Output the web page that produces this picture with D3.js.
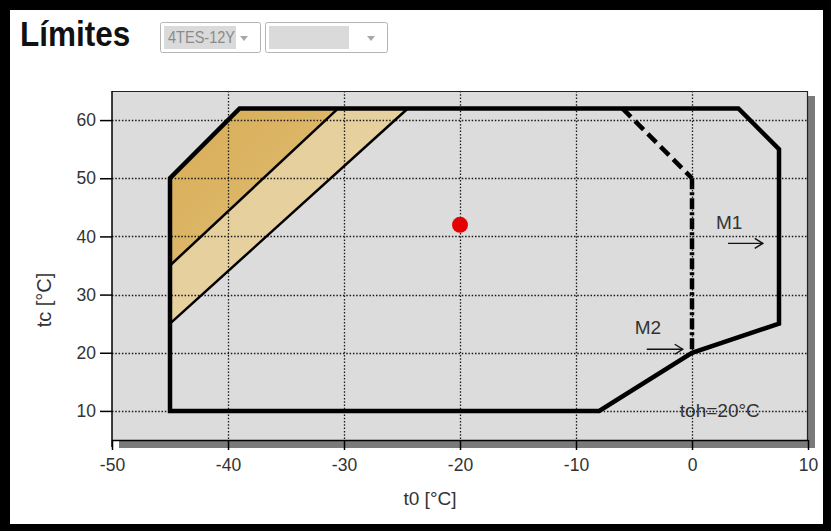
<!DOCTYPE html>
<html><head><meta charset="utf-8">
<script src="https://cdn.jsdelivr.net/npm/d3@7"></script>
<style>
html,body{margin:0;padding:0;background:#fff;}
svg{display:block;}
</style></head>
<body>
<svg id="chart" width="831" height="531"></svg>
<script>
// ---- data ----
const xTicks = [-50, -40, -30, -20, -10, 0, 10];
const yTicks = [10, 20, 30, 40, 50, 60];
const envelopeT0 = [-45, -45, -39, 4, 7.5, 7.5, 0, -8];
const envelopeTc = [10, 50, 62, 62, 55, 25, 20, 10];
const dashT0 = [-6, 0];
const dashTc = [62, 50];
const dashDotT0 = [0, 0];
const dashDotTc = [50, 20];
const darkZoneT0 = [-45, -45, -39, -30.5];
const darkZoneTc = [35, 50, 62, 62];
const lightZoneT0 = [-45, -45, -30.5, -24.5];
const lightZoneTc = [25, 35, 62, 62];
const upperLineT0 = [-45, -30.5];
const upperLineTc = [35, 62];
const lowerLineT0 = [-45, -24.5];
const lowerLineTc = [25, 62];
const pointT0 = [-20];
const pointTc = [42];
const arrowLabels = ["M1", "M2"];
const arrowLabelT0 = [3.2, -3.8];
const arrowLabelTc = [41.2, 23.2];
const arrowFromT0 = [3.1, -3.9];
const arrowToT0 = [6.1, -0.8];
const arrowTc = [38.8, 20.6];
const tohLabel = "toh=20°C";
const tohT0 = [2.4];
const tohTc = [9.0];
const titleText = "Límites";
const dropdown1 = "4TES-12Y";
const xTitle = "t0 [°C]";
const yTitle = "tc [°C]";

const zip = (a, b) => a.map((v, i) => [v, b[i]]);

const svg = d3.select("#chart");
const W = 831, H = 531;
const L = 112, R = 808, T = 91, B = 440;
const x = d3.scaleLinear().domain([-50, 10]).range([L, R]);
const y = d3.scaleLinear().domain([5, 65]).range([B, T]);

// frame
svg.append("rect").attr("x", 0).attr("y", 0).attr("width", W).attr("height", H).attr("fill", "#000");
svg.append("rect").attr("x", 10).attr("y", 10).attr("width", W - 18).attr("height", H - 17).attr("fill", "#fff");

// header
svg.append("text").attr("transform", "translate(20,46) scale(0.9,1)").text(titleText)
  .attr("font-family", "'Liberation Sans',Arial,sans-serif")
  .attr("font-weight", "bold").attr("font-size", 35).attr("fill", "#111");
function dropdown(x0, w, innerW, label) {
  const g = svg.append("g");
  g.append("rect").attr("x", x0 + 0.5).attr("y", 22.5).attr("width", w).attr("height", 30)
    .attr("rx", 2).attr("fill", "#fff").attr("stroke", "#b4b4b4");
  g.append("rect").attr("x", x0 + 4).attr("y", 26).attr("width", innerW).attr("height", 23).attr("fill", "#dadada");
  if (label) g.append("text").attr("x", x0 + 8).attr("y", 43).text(label)
    .attr("textLength", 67).attr("lengthAdjust", "spacingAndGlyphs")
    .attr("font-family", "'Liberation Sans',Arial,sans-serif")
    .attr("font-size", 16.5).attr("fill", "#8a8a8a");
  g.append("path").attr("d", `M${x0 + w - 20},36 l8,0 l-4,5 z`).attr("fill", "#a8a8a8");
}
dropdown(160, 100, 72, dropdown1);
dropdown(265, 122, 80, "");

// plot shadow + background
svg.append("rect").attr("x", L + 7).attr("y", T + 5).attr("width", R - L).attr("height", B - T + 3).attr("fill", "#7a7a7a");
svg.append("rect").attr("x", L).attr("y", T).attr("width", R - L).attr("height", B - T).attr("fill", "#dcdcdc");

// zones
const line = d3.line().x(d => x(d[0])).y(d => y(d[1]));
const defs = svg.append("defs");
const g1 = defs.append("linearGradient").attr("id", "gDark").attr("x1", 0).attr("y1", 0).attr("x2", 1).attr("y2", 1);
g1.append("stop").attr("offset", "0%").attr("stop-color", "#d8ac55");
g1.append("stop").attr("offset", "100%").attr("stop-color", "#e0bf78");
const g2 = defs.append("linearGradient").attr("id", "gLight").attr("x1", 0).attr("y1", 0).attr("x2", 1).attr("y2", 1);
g2.append("stop").attr("offset", "0%").attr("stop-color", "#e4cc96");
g2.append("stop").attr("offset", "100%").attr("stop-color", "#e8d5a8");
svg.append("path").attr("d", line(zip(darkZoneT0, darkZoneTc)) + "Z").attr("fill", "url(#gDark)");
svg.append("path").attr("d", line(zip(lightZoneT0, lightZoneTc)) + "Z").attr("fill", "url(#gLight)");

// grid
const grid = svg.append("g").attr("stroke", "#1a1a1a").attr("stroke-width", 1.3).attr("stroke-dasharray", "1.5,1.8");
grid.selectAll(".gx").data(xTicks.filter(v => v > -50 && v < 10)).join("line")
  .attr("x1", d => Math.round(x(d)) + 0.5).attr("x2", d => Math.round(x(d)) + 0.5).attr("y1", T).attr("y2", B);
grid.selectAll(".gy").data(yTicks).join("line")
  .attr("y1", d => Math.round(y(d)) + 0.5).attr("y2", d => Math.round(y(d)) + 0.5).attr("x1", L).attr("x2", R);

// plot border top/right
svg.append("path").attr("d", `M${L},${T + 0.5}H${R - 0.5}V${B}`).attr("fill", "none").attr("stroke", "#222").attr("stroke-width", 1.2);

// axes
const fontAx = "'Liberation Sans',Arial,sans-serif";
const xAxis = svg.append("g").attr("transform", `translate(0,${B})`)
  .call(d3.axisBottom(x).tickValues(xTicks).tickSize(10).tickSizeOuter(0).tickFormat(d3.format("d")));
xAxis.select(".domain").attr("stroke", "#000").attr("stroke-width", 1.5);
xAxis.selectAll(".tick line").attr("stroke", "#000").attr("stroke-width", 1.5);
xAxis.selectAll("text").attr("font-family", fontAx).attr("font-size", 17.5).attr("fill", "#333").attr("dy", "1.05em")
  .text(d => d < 0 ? "-" + Math.abs(d) : d);
const yAxis = svg.append("g").attr("transform", `translate(${L},0)`)
  .call(d3.axisLeft(y).tickValues(yTicks).tickSize(12).tickSizeOuter(0).tickFormat(d3.format("d")));
yAxis.select(".domain").attr("stroke", "#000").attr("stroke-width", 1.5).attr("d", `M0,${T}V${B + 7}`);
yAxis.selectAll(".tick line").attr("stroke", "#000").attr("stroke-width", 1.5);
yAxis.selectAll("text").attr("font-family", fontAx).attr("font-size", 17.5).attr("fill", "#333").attr("x", -16);

svg.append("text").attr("x", 430).attr("y", 505).attr("text-anchor", "middle").text(xTitle)
  .attr("font-family", fontAx).attr("font-size", 19).attr("fill", "#333");
svg.append("text").attr("transform", "translate(51,300) rotate(-90)").attr("text-anchor", "middle").text(yTitle)
  .attr("font-family", fontAx).attr("font-size", 20).attr("fill", "#333");

// band lines
svg.append("path").attr("d", line(zip(upperLineT0, upperLineTc))).attr("stroke", "#000").attr("stroke-width", 2.5).attr("fill", "none");
svg.append("path").attr("d", line(zip(lowerLineT0, lowerLineTc))).attr("stroke", "#000").attr("stroke-width", 2.5).attr("fill", "none");

// envelope
svg.append("path").attr("d", line(zip(envelopeT0, envelopeTc)) + "Z").attr("fill", "none")
  .attr("stroke", "#000").attr("stroke-width", 4.5).attr("stroke-linejoin", "miter");
svg.append("path").attr("d", line(zip(dashT0, dashTc))).attr("fill", "none")
  .attr("stroke", "#000").attr("stroke-width", 4.5).attr("stroke-dasharray", "12,6");
svg.append("path").attr("d", line(zip(dashDotT0, dashDotTc))).attr("fill", "none")
  .attr("stroke", "#000").attr("stroke-width", 4.5).attr("stroke-dasharray", "11,3,3,3");

// operating point
svg.selectAll(".pt").data(zip(pointT0, pointTc)).join("circle")
  .attr("cx", d => x(d[0])).attr("cy", d => y(d[1])).attr("r", 8).attr("fill", "#e60000");

// arrows
arrowLabels.forEach((lab, i) => {
  svg.append("text").attr("x", x(arrowLabelT0[i])).attr("y", y(arrowLabelTc[i])).attr("text-anchor", "middle")
    .text(lab).attr("font-family", fontAx).attr("font-size", 19).attr("fill", "#333");
  const x1 = x(arrowFromT0[i]), x2 = x(arrowToT0[i]), yy = y(arrowTc[i]);
  svg.append("line").attr("x1", x1).attr("x2", x2).attr("y1", yy).attr("y2", yy).attr("stroke", "#111").attr("stroke-width", 1.4);
  svg.append("path").attr("d", `M${x2 - 8},${yy - 5}L${x2},${yy}L${x2 - 8},${yy + 5}`).attr("fill", "none")
    .attr("stroke", "#111").attr("stroke-width", 1.4);
});
svg.append("text").attr("x", x(tohT0[0])).attr("y", y(tohTc[0])).attr("text-anchor", "middle").text(tohLabel)
  .attr("font-family", fontAx).attr("font-size", 19).attr("fill", "#333");
</script>
</body></html>
